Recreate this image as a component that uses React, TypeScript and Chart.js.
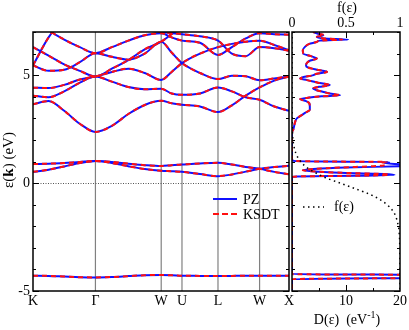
import { useEffect, useRef } from "react";
import { Chart, registerables } from "chart.js";

Chart.register(...registerables);

// ---------- band structure data ----------
const kPath = [0, 0.265, 0.53, 0.796, 1.061, 1.34, 1.62, 1.899, 2.179, 2.356, 2.532, 2.838, 3.144, 3.38, 3.615, 3.851, 4.101, 4.351];
const symLabels = ["K", "Γ", "W", "U", "L", "W", "X"];
const symK = [0, 1.061, 2.179, 2.532, 3.144, 3.851, 4.351];
const energyLabels = [-5, 0, 5];

const band1 = [-4.29, -4.3, -4.33, -4.36, -4.37, -4.35, -4.31, -4.27, -4.26, -4.27, -4.29, -4.3, -4.31, -4.3, -4.29, -4.29, -4.29, -4.29];
const band2 = [0.88, 0.9, 0.93, 0.98, 1.02, 0.98, 0.9, 0.83, 0.79, 0.83, 0.86, 0.91, 0.94, 0.86, 0.75, 0.66, 0.52, 0.41];
const band3 = [0.52, 0.62, 0.77, 0.93, 1.02, 0.93, 0.78, 0.65, 0.57, 0.55, 0.52, 0.42, 0.32, 0.4, 0.53, 0.66, 0.74, 0.8];
const band4 = [3.65, 3.8, 3.35, 2.75, 2.37, 2.65, 3.2, 3.62, 3.81, 3.7, 3.63, 3.55, 3.29, 3.6, 4.05, 4.43, 4.75, 4.94];
const band5 = [4.05, 3.98, 4.25, 4.65, 4.94, 4.7, 4.45, 4.35, 4.37, 4.15, 4.09, 4.15, 4.43, 4.25, 3.98, 3.86, 3.55, 3.35];
const band6 = [4.42, 4.4, 4.55, 4.8, 4.94, 5.15, 5.3, 5.1, 4.78, 5.15, 5.56, 6.0, 6.3, 6.45, 6.55, 6.6, 6.4, 6.15];
const band7 = [6.3, 5.9, 5.5, 5.2, 4.94, 5.3, 5.7, 6.2, 6.55, 6.9, 7.2, 7.4, 7.5, 7.5, 7.4, 7.3, 7.2, 7.1];
const band8 = [5.45, 5.2, 5.25, 5.6, 6.02, 5.85, 5.72, 6.0, 6.55, 6.05, 5.56, 5.1, 4.82, 4.97, 4.95, 4.76, 4.85, 4.94];
const band9 = [5.45, 6.75, 7.6, 8.1, 8.3, 8.2, 8.0, 7.8, 7.6, 7.5, 7.4, 7.5, 7.6, 7.6, 7.5, 7.4, 7.4, 7.4];
const band10 = [7.9, 7.1, 6.65, 6.3, 6.02, 6.3, 6.6, 6.85, 6.94, 6.75, 6.6, 6.5, 5.94, 6.3, 6.7, 6.94, 6.9, 6.87];
const band11 = [7.5, 7.4, 7.3, 7.2, 7.1, 7.15, 7.2, 7.1, 7.0, 6.95, 6.9, 6.8, 6.6, 6.0, 5.88, 6.3, 6.25, 6.13];

const bandsPZ = [band1, band2, band3, band4, band5, band6, band7, band8, band9, band10, band11];
const bandsKSDT = [band1, band2, band3, band4, band5, band6, band7, band8, band9, band10, band11];

// ---------- density of states data ----------
const dosEnergy = [
  7.1, 7.0, 6.92, 6.85, 6.77, 6.7, 6.65, 6.6, 6.54, 6.45, 6.31, 6.15, 6.0, 5.88, 5.77, 5.68, 5.58, 5.45, 5.36, 5.25,
  5.15, 5.07, 4.99, 4.9, 4.84, 4.77, 4.65, 4.54, 4.46, 4.38, 4.3, 4.23, 4.15, 4.07, 4.02, 3.96, 3.89, 3.8, 3.7, 3.55,
  3.4, 3.25, 3.1, 3.0, 2.85, 2.65, 2.45, 2.37,
  1.1, 1.03, 1.0, 0.98, 0.94, 0.88, 0.82, 0.78, 0.72, 0.65, 0.59, 0.53, 0.47, 0.42, 0.38, 0.34, 0.31, 0.28,
  -4.15, -4.22, -4.26, -4.3, -4.34, -4.38, -4.45, -5.1,
];
const dosPZ = [
  4.5, 4.0, 4.8, 5.8, 4.6, 6.0, 10.4, 5.2, 4.6, 3.2, 2.4, 2.0, 2.1, 3.5, 4.6, 3.4, 2.8, 2.6, 2.9, 4.6,
  6.5, 4.6, 3.8, 2.0, 1.5, 2.8, 4.8, 7.0, 5.0, 3.9, 4.6, 5.7, 7.0, 8.9, 5.5, 3.2, 1.5, 2.6, 3.2, 3.3,
  3.3, 2.4, 1.5, 0.9, 0.6, 0.4, 0.2, 0,
  0, 0.3, 6, 18, 17, 19, 24, 20, 10, 4, 2, 5, 10, 17, 19, 12, 1, 0,
  0, 0, 30, 25, 25, 30, 0, 0,
];
const dosKSDT = [
  4.5, 4.0, 4.8, 6.0, 4.6, 6.0, 9.3, 5.2, 4.6, 3.2, 2.4, 2.0, 2.1, 3.5, 4.6, 3.4, 2.8, 2.6, 2.9, 4.6,
  6.5, 4.6, 3.8, 2.0, 1.5, 2.8, 4.8, 7.0, 5.0, 3.9, 4.6, 5.7, 7.0, 8.9, 5.5, 3.2, 1.5, 2.6, 3.2, 3.3,
  3.3, 2.4, 1.5, 0.9, 0.6, 0.4, 0.2, 0,
  0, 0.3, 6, 17.5, 16.5, 17, 17, 15, 9, 4, 2, 5, 10, 17, 18, 12, 1, 0,
  0, 0, 30, 25, 25, 30, 0, 0,
];
const dosTicks = [10, 20];

// ---------- occupation f(e) ----------
const fermiEnergy = [7.0, 4.0, 3.0, 2.5, 2.0, 1.5, 1.25, 1.0, 0.75, 0.5, 0.25, 0.0, -0.25, -0.5, -0.75, -1.0, -1.25, -1.5, -2.0, -2.5, -3.0, -4.0, -5.0];
const fermiOcc = [0, 0, 0.001, 0.004, 0.009, 0.028, 0.047, 0.08, 0.13, 0.21, 0.31, 0.445, 0.58, 0.71, 0.81, 0.88, 0.928, 0.957, 0.985, 0.995, 0.998, 1.0, 1.0];
const occTicks = [0, 0.5, 1];
const occTickLabels = ["0", "0.5", "1"];

const seriesNames = ["PZ", "KSDT"];
const BLUE = "#1010ff";
const RED = "#ff1010";
const FONT = '"Liberation Serif", "Times New Roman", serif';

function seg(ctx: CanvasRenderingContext2D, x1: number, y1: number, x2: number, y2: number) {
  ctx.beginPath();
  ctx.moveTo(x1, y1);
  ctx.lineTo(x2, y2);
  ctx.stroke();
}

const leftDeco = {
  id: "leftDeco",
  beforeDatasetsDraw(chart: any) {
    const { ctx, chartArea: a, scales } = chart;
    ctx.save();
    ctx.strokeStyle = "#808080";
    ctx.lineWidth = 1.2;
    symK.slice(1, -1).forEach((k) => {
      const px = scales.x.getPixelForValue(k);
      seg(ctx, px, a.top, px, a.bottom);
    });
    ctx.strokeStyle = "#555";
    ctx.lineWidth = 1;
    ctx.setLineDash([1, 1.5]);
    const y0 = Math.round(scales.y.getPixelForValue(0)) + 0.5;
    seg(ctx, a.left, y0, a.right, y0);
    ctx.restore();
  },
  afterDraw(chart: any) {
    const { ctx, chartArea: a, scales } = chart;
    ctx.save();
    ctx.strokeStyle = "#000";
    ctx.lineWidth = 1;
    for (let v = -5; v <= 7; v++) {
      const py = Math.round(scales.y.getPixelForValue(v)) + 0.5;
      const len = v % 5 === 0 ? 6 : 3;
      seg(ctx, a.left, py, a.left + len, py);
      seg(ctx, a.right - len, py, a.right, py);
    }
    ctx.lineWidth = 1.5;
    ctx.strokeRect(a.left, a.top, a.right - a.left, a.bottom - a.top);

    ctx.fillStyle = "#000";
    ctx.font = `14px ${FONT}`;
    ctx.textAlign = "right";
    ctx.textBaseline = "middle";
    energyLabels.forEach((v) => {
      ctx.fillText(String(v), a.left - 3, scales.y.getPixelForValue(v) + 0.5);
    });
    ctx.textAlign = "center";
    ctx.textBaseline = "alphabetic";
    symLabels.forEach((s, i) => {
      ctx.fillText(s, scales.x.getPixelForValue(symK[i]), a.bottom + 14);
    });

    // y title  e(k) (eV) with bold k
    ctx.save();
    ctx.translate(13, 160);
    ctx.rotate(-Math.PI / 2);
    const p1 = "ε(", p2 = "k", p3 = ") (eV)";
    ctx.font = `15px ${FONT}`;
    const w1 = ctx.measureText(p1).width;
    const w3 = ctx.measureText(p3).width;
    ctx.font = `bold 15px ${FONT}`;
    const w2 = ctx.measureText(p2).width;
    let sx = -(w1 + w2 + w3) / 2;
    ctx.textAlign = "left";
    ctx.font = `15px ${FONT}`;
    ctx.fillText(p1, sx, 0);
    sx += w1;
    ctx.font = `bold 15px ${FONT}`;
    ctx.fillText(p2, sx, 0);
    sx += w2;
    ctx.font = `15px ${FONT}`;
    ctx.fillText(p3, sx, 0);
    ctx.restore();

    // legend
    ctx.lineWidth = 2;
    ctx.strokeStyle = BLUE;
    seg(ctx, 213, 199, 237, 199);
    ctx.strokeStyle = RED;
    ctx.setLineDash([6, 3]);
    seg(ctx, 213, 214, 237, 214);
    ctx.setLineDash([]);
    ctx.font = `14px ${FONT}`;
    ctx.textAlign = "left";
    ctx.fillText(seriesNames[0], 243, 204);
    ctx.fillText(seriesNames[1], 243, 218.5);
    ctx.restore();
  },
};

const rightDeco = {
  id: "rightDeco",
  afterDraw(chart: any) {
    const { ctx, chartArea: a, scales } = chart;
    ctx.save();
    ctx.strokeStyle = "#000";
    ctx.lineWidth = 1;
    for (let v = -5; v <= 7; v++) {
      const py = Math.round(scales.y.getPixelForValue(v)) + 0.5;
      const len = v % 5 === 0 ? 6 : 3;
      seg(ctx, a.left, py, a.left + len, py);
      seg(ctx, a.right - len, py, a.right, py);
    }
    for (let d = 5; d < 20; d += 5) {
      const px = Math.round(scales.x.getPixelForValue(d)) + 0.5;
      const len = d % 10 === 0 ? 6 : 3;
      seg(ctx, px, a.bottom, px, a.bottom - len);
      seg(ctx, px, a.top, px, a.top + len);
    }
    ctx.lineWidth = 1.5;
    ctx.strokeRect(a.left, a.top, a.right - a.left, a.bottom - a.top);

    ctx.fillStyle = "#000";
    ctx.font = `14px ${FONT}`;
    ctx.textAlign = "center";
    ctx.textBaseline = "alphabetic";
    dosTicks.forEach((d) => ctx.fillText(String(d), scales.x.getPixelForValue(d), a.bottom + 14));
    occTicks.forEach((f, i) => ctx.fillText(occTickLabels[i], scales.x2.getPixelForValue(f), a.top - 5));
    ctx.fillText("f(ε)", (a.left + a.right) / 2 + 1, 12);

    // bottom title D(e)  (eV^-1)
    const t1 = "D(ε)  (eV";
    const t2 = "-1";
    const t3 = ")";
    const w1 = ctx.measureText(t1).width;
    const w3 = ctx.measureText(t3).width;
    ctx.font = `10px ${FONT}`;
    const w2 = ctx.measureText(t2).width;
    let sx = (a.left + a.right) / 2 + 1 - (w1 + w2 + w3) / 2;
    ctx.textAlign = "left";
    ctx.font = `14px ${FONT}`;
    ctx.fillText(t1, sx, 324);
    sx += w1;
    ctx.font = `10px ${FONT}`;
    ctx.fillText(t2, sx, 318);
    sx += w2;
    ctx.font = `14px ${FONT}`;
    ctx.fillText(t3, sx, 324);

    // legend f(e)
    ctx.strokeStyle = "#000";
    ctx.lineWidth = 1.5;
    ctx.setLineDash([1.5, 3.5]);
    seg(ctx, a.left + 11, 207, a.left + 32, 207);
    ctx.setLineDash([]);
    ctx.fillText("f(ε)", a.left + 42, 211);
    ctx.restore();
  },
};

function bandDataset(b: number[], color: string, dashed: boolean, label: string) {
  return {
    label,
    data: kPath.map((k, i) => ({ x: k, y: b[i] })),
    borderColor: color,
    borderWidth: 2,
    borderDash: dashed ? [5, 4] : [],
    pointRadius: 0,
    cubicInterpolationMode: "monotone",
  };
}

export default function App() {
  const leftRef = useRef<HTMLCanvasElement>(null);
  const rightRef = useRef<HTMLCanvasElement>(null);

  useEffect(() => {
    // Chart.js paints dataset 0 last (on top): red dashed KSDT first, blue PZ after.
    const bandSets: any[] = [
      ...bandsKSDT.map((b) => bandDataset(b, RED, true, seriesNames[1])),
      ...bandsPZ.map((b) => bandDataset(b, BLUE, false, seriesNames[0])),
    ];

    const left = new Chart(leftRef.current as HTMLCanvasElement, {
      type: "line",
      data: { datasets: bandSets },
      options: {
        animation: false,
        responsive: false,
        devicePixelRatio: 1,
        layout: { padding: { left: 33, top: 32, right: 11, bottom: 39 } },
        scales: {
          x: { type: "linear", min: 0, max: 4.351, display: false },
          y: { type: "linear", min: -5, max: 7, display: false },
        },
        plugins: { legend: { display: false }, tooltip: { enabled: false } },
      },
      plugins: [leftDeco],
    } as any);

    const right = new Chart(rightRef.current as HTMLCanvasElement, {
      type: "line",
      data: {
        datasets: [
          {
            label: "f(ε)",
            data: fermiEnergy.map((e, i) => ({ x: fermiOcc[i], y: e })),
            borderColor: "#000",
            borderWidth: 1.5,
            borderDash: [1.5, 3.5],
            pointRadius: 0,
            cubicInterpolationMode: "monotone",
            xAxisID: "x2",
          },
          {
            label: seriesNames[1],
            data: dosEnergy.map((e, i) => ({ x: dosKSDT[i], y: e })),
            borderColor: RED,
            borderWidth: 2,
            borderDash: [5, 4],
            pointRadius: 0,
            cubicInterpolationMode: "monotone",
            xAxisID: "x",
          },
          {
            label: seriesNames[0],
            data: dosEnergy.map((e, i) => ({ x: dosPZ[i], y: e })),
            borderColor: BLUE,
            borderWidth: 2,
            pointRadius: 0,
            cubicInterpolationMode: "monotone",
            xAxisID: "x",
          },
        ],
      },
      options: {
        animation: false,
        responsive: false,
        devicePixelRatio: 1,
        indexAxis: "y",
        layout: { padding: { left: 12, top: 32, right: 9, bottom: 39 } },
        scales: {
          x: { type: "linear", min: 0, max: 20, display: false },
          x2: { type: "linear", position: "top", min: 0, max: 1, display: false },
          y: { type: "linear", min: -5, max: 7, display: false },
        },
        plugins: { legend: { display: false }, tooltip: { enabled: false } },
      },
      plugins: [rightDeco],
    } as any);

    return () => {
      left.destroy();
      right.destroy();
    };
  }, []);

  return (
    <div style={{ position: "fixed", left: 0, top: 0, width: 409, height: 330, background: "#fff" }}>
      <canvas ref={leftRef} width={300} height={330} style={{ position: "absolute", left: 0, top: 0 }} />
      <canvas ref={rightRef} width={129} height={330} style={{ position: "absolute", left: 280, top: 0 }} />
    </div>
  );
}
